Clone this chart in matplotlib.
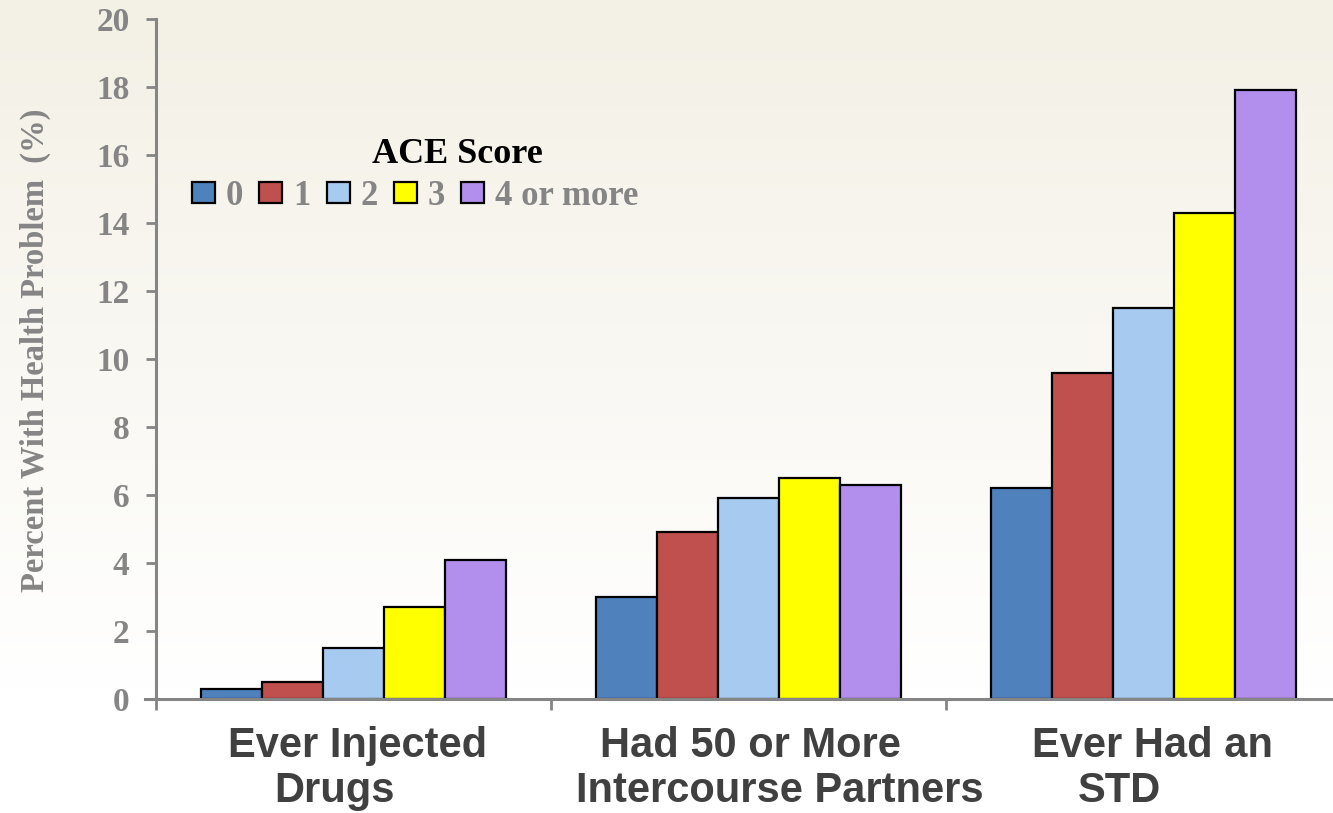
import matplotlib
matplotlib.use("Agg")
import matplotlib.pyplot as plt
import matplotlib.transforms as mtransforms
import numpy as np

# ── data ──────────────────────────────────────────────────────────────────────
categories = ["Ever Injected Drugs", "Had 50 or More Intercourse Partners", "Ever Had an STD"]
ace_scores = ["0", "1", "2", "3", "4 or more"]
score_0 = [0.3, 3.0, 6.2]
score_1 = [0.5, 4.9, 9.6]
score_2 = [1.5, 5.9, 11.5]
score_3 = [2.7, 6.5, 14.3]
score_4 = [4.1, 6.3, 17.9]
y_ticks = [0, 2, 4, 6, 8, 10, 12, 14, 16, 18, 20]

# label lines as they sit on the slide (text, x offset from group centre)
label_lines = [
    [("Ever Injected", 0.01), ("Drugs", -0.047)],
    [("Had 50 or More", 0.006), ("Intercourse Partners", 0.08)],
    [("Ever Had an", 0.022), ("STD", -0.062)],
]

COLORS = ["#4F81BD", "#C0504D", "#A7CAF0", "#FFFF00", "#B28FEC"]
GRAY = "#858585"
SERIF = "Liberation Serif"
SANS = "Liberation Sans"

fig = plt.figure(figsize=(13.33, 8.13), dpi=100)

# background gradient (cream at top fading to white)
bg = fig.add_axes([0, 0, 1, 1], zorder=-10)
grad = np.linspace(0, 1, 256).reshape(-1, 1)
top = np.array([243, 240, 229]) / 255
bot = np.array([255, 255, 255]) / 255
w = np.clip(grad / 0.85, 0, 1)
img = top * (1 - w)[..., None] + bot * w[..., None]
img = img.reshape(256, 1, 3)
bg.imshow(img, aspect="auto", extent=[0, 1, 0, 1])
bg.set_axis_off()

ax = fig.add_axes([156 / 1333, 1 - 699 / 813, 1 - 156 / 1333, 680 / 813])
ax.patch.set_alpha(0)

series = [score_0, score_1, score_2, score_3, score_4]
x = np.arange(len(categories))
bw = 0.154
handles = []
for i, (vals, lab) in enumerate(zip(series, ace_scores)):
    h = ax.bar(x + (i - 2) * bw, vals, width=bw, color=COLORS[i],
               edgecolor="black", linewidth=1.6, label=lab, zorder=3)
    handles.append(h)

ax.set_xlim(-0.5, -0.5 + (1333 - 156) / 395)
ax.set_ylim(0, 20)
ax.set_yticks(y_ticks)
ax.set_yticklabels([str(t) for t in y_ticks], fontfamily=SERIF,
                   fontweight="bold", fontsize=24, color=GRAY)
ax.set_xticks([-0.5, 0.5, 1.5])
ax.set_xticklabels([])
ax.tick_params(axis="y", direction="out", length=7, width=2, color=GRAY, pad=12)
ax.tick_params(axis="x", direction="out", length=8, width=2, color=GRAY)

for s in ["top", "right"]:
    ax.spines[s].set_visible(False)
for s in ["left", "bottom"]:
    ax.spines[s].set_color(GRAY)
    ax.spines[s].set_linewidth(2.2)
    ax.spines[s].set_zorder(4)
ax.spines["bottom"].set_bounds(-0.5 - 11 / 395, ax.get_xlim()[1])

# category labels, two lines each
trans = mtransforms.blended_transform_factory(ax.transData, ax.transAxes)
for xi, lines in zip(x, label_lines):
    for j, (txt, dx) in enumerate(lines):
        ax.text(xi + dx, -0.0853 - j * 0.066, txt, transform=trans,
                ha="center", va="baseline", fontfamily=SANS, fontweight="bold",
                fontsize=30, color="#404040", clip_on=False)

# y label
fig.text(35 / 1333, 1 - 350 / 813, "Percent With Health Problem  (%)",
         rotation=90, ha="center", va="center", fontfamily=SERIF,
         fontweight="bold", fontsize=23.5, color=GRAY)

# legend
fig.text(457 / 1333, 1 - 163 / 813, "ACE Score", ha="center", va="baseline",
         fontfamily=SERIF, fontweight="bold", fontsize=26, color="black")
leg = fig.legend(handles=handles, labels=ace_scores, ncol=5, frameon=False,
                 loc="center left", bbox_to_anchor=(192 / 1333, 1 - 196 / 813),
                 prop={"family": SERIF, "weight": "bold", "size": 25},
                 handlelength=0.66, handleheight=0.55, handletextpad=0.32,
                 columnspacing=0.46, borderpad=0, borderaxespad=0)
for t in leg.get_texts():
    t.set_color(GRAY)

fig.savefig("out.png", dpi=100)
